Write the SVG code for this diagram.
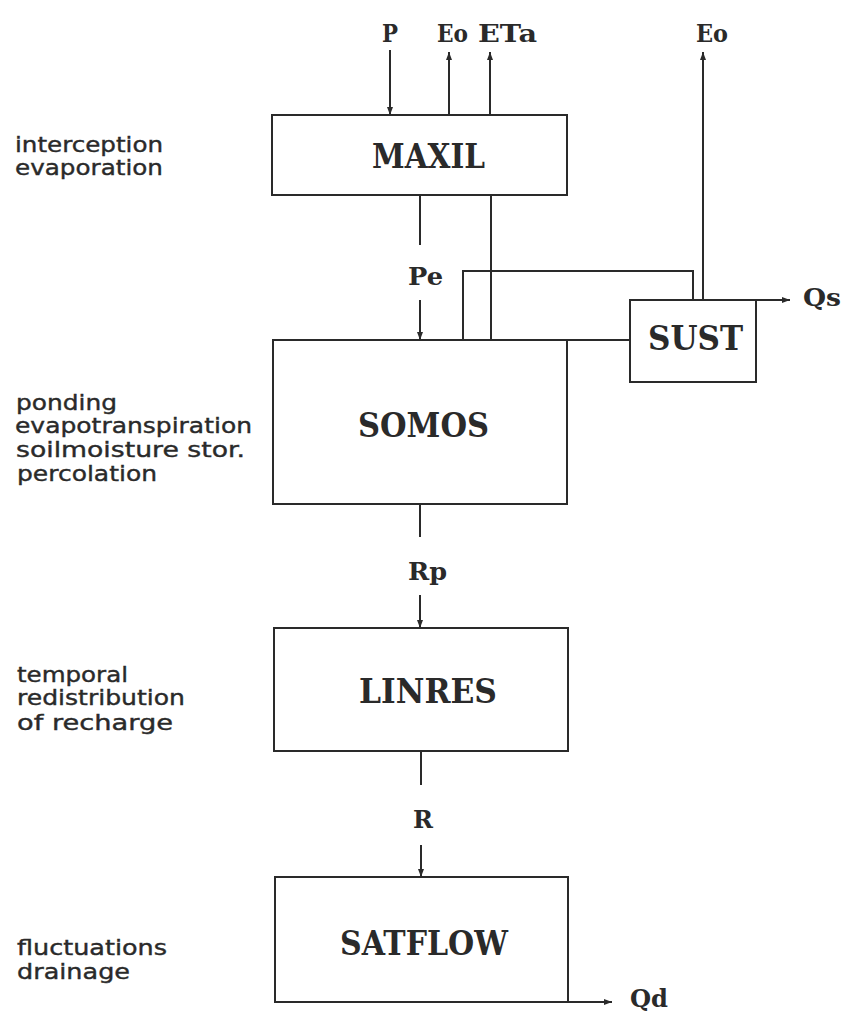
<svg xmlns="http://www.w3.org/2000/svg" width="842" height="1027" viewBox="0 0 842 1027">
<style>
.box{fill:none;stroke:#2a2a2a;stroke-width:2}
.ln{fill:none;stroke:#2a2a2a;stroke-width:2}
.bl{font-family:"DejaVu Serif","Liberation Serif",serif;font-weight:bold;fill:#2a2a2a;font-size:34px}
.sl{font-family:"DejaVu Serif","Liberation Serif",serif;font-weight:bold;fill:#2a2a2a;font-size:24px}
.lt{font-family:"DejaVu Sans","Liberation Sans",sans-serif;fill:#2a2a2a;font-size:22px;stroke:#2a2a2a;stroke-width:0.4}
</style>
<defs>
<marker id="ah" markerUnits="userSpaceOnUse" markerWidth="8" markerHeight="6" refX="8" refY="3" orient="auto">
<path d="M0,0 L8,3 L0,6 z" fill="#2a2a2a"/>
</marker>
</defs>
<g id="connectors">
<line class="ln" x1="390" y1="50" x2="390" y2="115" marker-end="url(#ah)"/>
<line class="ln" x1="449" y1="115" x2="449" y2="52" marker-end="url(#ah)"/>
<line class="ln" x1="490" y1="115" x2="490" y2="52" marker-end="url(#ah)"/>
<line class="ln" x1="491" y1="195" x2="491" y2="340"/>
<line class="ln" x1="420" y1="195" x2="420" y2="245"/>
<line class="ln" x1="420" y1="300" x2="420" y2="340" marker-end="url(#ah)"/>
<path class="ln" d="M463,340 V271 H693 V300"/>
<line class="ln" x1="567" y1="340" x2="630" y2="340"/>
<line class="ln" x1="703" y1="300" x2="703" y2="52" marker-end="url(#ah)"/>
<line class="ln" x1="756" y1="300" x2="790" y2="300" marker-end="url(#ah)"/>
<line class="ln" x1="420" y1="504" x2="420" y2="537"/>
<line class="ln" x1="420" y1="595" x2="420" y2="628" marker-end="url(#ah)"/>
<line class="ln" x1="421" y1="751" x2="421" y2="785"/>
<line class="ln" x1="421" y1="845" x2="421" y2="877" marker-end="url(#ah)"/>
<line class="ln" x1="568" y1="1002" x2="612" y2="1002" marker-end="url(#ah)"/>
</g>
<g id="flow-labels">
<text class="sl" x="382" y="42" textLength="16" lengthAdjust="spacingAndGlyphs">P</text>
<text class="sl" x="437" y="42" textLength="31" lengthAdjust="spacingAndGlyphs">Eo</text>
<text class="sl" x="478" y="42" textLength="59" lengthAdjust="spacingAndGlyphs">ETa</text>
<text class="sl" x="696" y="42" textLength="32" lengthAdjust="spacingAndGlyphs">Eo</text>
<text class="sl" x="408" y="285" textLength="35" lengthAdjust="spacingAndGlyphs">Pe</text>
<text class="sl" x="803" y="306" textLength="38" lengthAdjust="spacingAndGlyphs">Qs</text>
<text class="sl" x="408" y="580" textLength="39" lengthAdjust="spacingAndGlyphs">Rp</text>
<text class="sl" x="413" y="828" textLength="20" lengthAdjust="spacingAndGlyphs">R</text>
<text class="sl" x="630" y="1007" textLength="38" lengthAdjust="spacingAndGlyphs">Qd</text>
</g>
<g id="MAXIL">
<rect class="box" x="272" y="115" width="295" height="80"/>
<text class="bl" x="372" y="168" textLength="113" lengthAdjust="spacingAndGlyphs">MAXIL</text>
</g>
<g id="SOMOS">
<rect class="box" x="273" y="340" width="294" height="164"/>
<text class="bl" x="358" y="437" textLength="131" lengthAdjust="spacingAndGlyphs">SOMOS</text>
</g>
<g id="SUST">
<rect class="box" x="630" y="300" width="126" height="82"/>
<text class="bl" x="648" y="350" textLength="95" lengthAdjust="spacingAndGlyphs">SUST</text>
</g>
<g id="LINRES">
<rect class="box" x="274" y="628" width="294" height="123"/>
<text class="bl" x="359" y="703" textLength="138" lengthAdjust="spacingAndGlyphs">LINRES</text>
</g>
<g id="SATFLOW">
<rect class="box" x="275" y="877" width="293" height="125"/>
<text class="bl" x="340" y="955" textLength="168" lengthAdjust="spacingAndGlyphs">SATFLOW</text>
</g>
<g id="side-labels">
<text class="lt" x="15" y="152" textLength="148" lengthAdjust="spacingAndGlyphs">interception</text>
<text class="lt" x="15" y="175" textLength="148" lengthAdjust="spacingAndGlyphs">evaporation</text>
<text class="lt" x="16" y="410" textLength="101" lengthAdjust="spacingAndGlyphs">ponding</text>
<text class="lt" x="15" y="433" textLength="237" lengthAdjust="spacingAndGlyphs">evapotranspiration</text>
<text class="lt" x="16" y="457" textLength="229" lengthAdjust="spacingAndGlyphs">soilmoisture stor.</text>
<text class="lt" x="17" y="481" textLength="140" lengthAdjust="spacingAndGlyphs">percolation</text>
<text class="lt" x="17" y="682" textLength="111" lengthAdjust="spacingAndGlyphs">temporal</text>
<text class="lt" x="17" y="705" textLength="168" lengthAdjust="spacingAndGlyphs">redistribution</text>
<text class="lt" x="17" y="730" textLength="156" lengthAdjust="spacingAndGlyphs">of recharge</text>
<text class="lt" x="17" y="955" textLength="150" lengthAdjust="spacingAndGlyphs">fluctuations</text>
<text class="lt" x="17" y="979" textLength="113" lengthAdjust="spacingAndGlyphs">drainage</text>
</g>
</svg>
